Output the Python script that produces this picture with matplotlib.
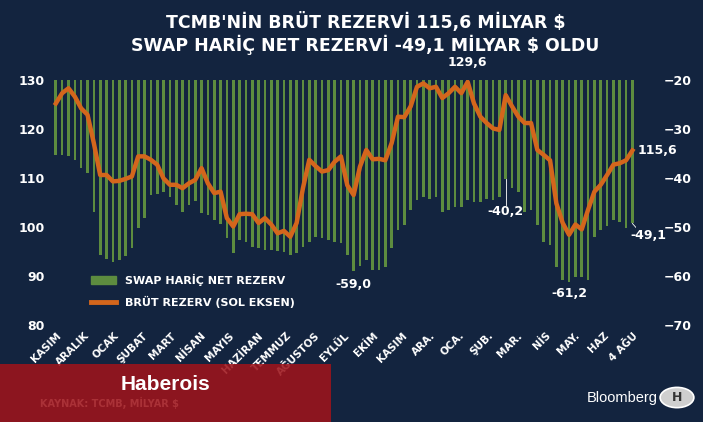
import matplotlib
matplotlib.use("Agg")
import matplotlib.pyplot as plt
from matplotlib.patches import Rectangle, Circle
from matplotlib.lines import Line2D
from matplotlib.patches import Patch

net_reserve = [-35.3, -35.3, -35.5, -36.3, -38.0, -39.0, -46.9, -55.7, -56.5, -57.1,
               -56.8, -56.0, -54.4, -50.2, -48.2, -43.5, -43.2, -42.8, -43.8, -45.5,
               -46.9, -45.5, -44.8, -47.2, -47.5, -48.6, -49.3, -52.3, -55.3, -52.6,
               -53.0, -54.0, -54.4, -54.7, -54.8, -55.0, -55.2, -55.7, -55.3, -54.0,
               -53.0, -52.0, -52.3, -52.6, -53.0, -53.3, -55.7, -59.0, -57.9, -56.8,
               -58.8, -58.8, -58.1, -54.4, -50.6, -49.7, -46.5, -44.5, -43.8, -44.2,
               -43.8, -46.9, -46.5, -45.9, -45.9, -44.5, -44.9, -44.9, -44.2, -44.5,
               -43.8, -40.2, -42.1, -42.8, -46.9, -46.5, -49.7, -53.0, -53.7, -58.1,
               -60.8, -61.2, -60.2, -60.2, -60.8, -52.0, -50.6, -49.9, -48.6, -48.9,
               -50.2, -49.1]
gross_reserve = [125.2, 127.3, 128.3, 126.6, 124.2, 122.9, 117.1, 110.6, 110.6, 109.3,
                 109.4, 109.8, 110.3, 114.4, 114.4, 113.7, 112.7, 109.9, 108.6, 108.6,
                 107.9, 108.9, 109.6, 112.0, 108.9, 106.9, 107.2, 101.8, 100.1, 102.6,
                 102.7, 102.6, 100.8, 101.8, 100.5, 98.7, 99.2, 98.0, 100.8, 107.9,
                 113.7, 112.4, 111.3, 111.6, 113.3, 114.4, 108.5, 106.5, 112.3, 115.7,
                 113.8, 113.9, 113.6, 117.1, 122.5, 122.4, 124.6, 128.6, 129.3, 128.3,
                 128.6, 126.3, 127.3, 128.6, 127.3, 129.6, 125.2, 122.5, 121.2, 120.1,
                 119.8, 126.9, 124.6, 122.5, 121.2, 121.2, 115.7, 114.7, 113.6, 104.8,
                 100.8, 98.4, 100.5, 99.5, 103.5, 107.2, 108.6, 110.6, 112.7, 113.0,
                 113.6, 115.6]
month_labels = ["KASIM", "ARALIK", "OCAK", "ŞUBAT", "MART", "NİSAN", "MAYIS", "HAZİRAN",
                "TEMMUZ", "AĞUSTOS", "EYLÜL", "EKİM", "KASIM", "ARA.", "OCA.", "ŞUB.",
                "MAR.", "NİS", "MAY.", "HAZ", "4 AĞU"]
left_ticks = [80, 90, 100, 110, 120, 130]
right_ticks = [-70, -60, -50, -40, -30, -20]

BG = "#13243f"
GREEN = "#5d8c3f"
ORANGE = "#d4661c"
n = len(net_reserve)
x = list(range(n))

fig = plt.figure(figsize=(7.03, 4.22), dpi=100, facecolor=BG)
axr = fig.add_axes([0.074, 0.23, 0.831, 0.5806])
axr.set_facecolor(BG)
axr.bar(x, [v + 20 for v in net_reserve], bottom=-20, width=0.42, color=GREEN)
axr.set_ylim(-70, -20)
axr.set_xlim(-0.6, n - 0.4)
axl = axr.twinx()
axl.plot(x, gross_reserve, color=ORANGE, lw=3.2, solid_joinstyle="round")
axl.set_ylim(80, 130)

axr.yaxis.tick_right()
axl.yaxis.tick_left()
axr.set_yticks(right_ticks)
axl.set_yticks(left_ticks)
for ax in (axr, axl):
    for s in ax.spines.values():
        s.set_visible(False)
    ax.tick_params(length=0, colors="white", labelsize=9)
    for t in ax.get_yticklabels():
        t.set_fontweight("bold")
axr.tick_params(axis="y", pad=20)
axl.tick_params(axis="y", pad=5)

tick_pos = [i * (n - 1) / (len(month_labels) - 1) for i in range(len(month_labels))]
axr.set_xticks(tick_pos)
axr.set_xticklabels(month_labels, rotation=45, ha="right", rotation_mode="anchor",
                    fontsize=7.5, fontweight="bold", color="white")
axr.tick_params(axis="x", pad=4)

tk = dict(color="white", fontsize=9, fontweight="bold")
axl.annotate("129,6", (65, 129.6), xytext=(65, 132.2), ha="center", va="bottom",
             annotation_clip=False, **tk)
axl.text(n - 0.2, 115.6, "115,6", ha="left", va="center", **tk)
axr.text(47, -60.5, "-59,0", ha="center", va="top", **tk)
axr.plot([71, 71], [-40.2, -45.5], color="white", lw=0.6)
axr.text(71, -45.6, "-40,2", ha="center", va="top", **tk)
axr.text(81, -62.3, "-61,2", ha="center", va="top", **tk)
axr.plot([n - 1, n - 0.1], [-49.3, -50.6], color="white", lw=0.6)
axr.text(n + 1.5, -50.5, "-49,1", ha="center", va="top", **tk)

handles = [Patch(color=GREEN), Line2D([0], [0], color=ORANGE, lw=3.5)]
leg = axr.legend(handles, ["SWAP HARİÇ NET REZERV", "BRÜT REZERV (SOL EKSEN)"],
                 loc="lower left", bbox_to_anchor=(0.05, 0.03), frameon=False,
                 handlelength=2.2, labelspacing=0.9,
                 prop=dict(size=8, weight="bold"))
for t in leg.get_texts():
    t.set_color("white")

fig.text(0.52, 0.947, "TCMB'NİN BRÜT REZERVİ 115,6 MİLYAR $", ha="center", va="center",
         color="white", fontsize=12.5, fontweight="bold")
fig.text(0.52, 0.893, "SWAP HARİÇ NET REZERVİ -49,1 MİLYAR $ OLDU", ha="center",
         va="center", color="white", fontsize=12.5, fontweight="bold")

fig.text(0.057, 0.045, "KAYNAK: TCMB, MİLYAR $", color="white", fontsize=7,
         fontweight="bold", ha="left", va="center")
fig.text(0.935, 0.058, "Bloomberg", color="white", fontsize=10.5, ha="right",
         va="center", family="Liberation Sans")
fig.patches.append(Circle((0.963, 0.058), 0.024, transform=fig.transFigure,
                          facecolor="#cfcfcf", edgecolor="white", lw=1.2))
fig.text(0.963, 0.058, "H", color="#333333", fontsize=9, ha="center", va="center",
         fontweight="bold")

fig.patches.append(Rectangle((0, 0), 0.471, 0.137, transform=fig.transFigure,
                             facecolor="#9e141b", alpha=0.88, zorder=10))
fig.text(0.235, 0.088, "Haberois", color="white", fontsize=15, ha="center",
         va="center", family="Liberation Sans", fontweight="bold", zorder=11)

fig.savefig("out.png", dpi=100, facecolor=BG)
